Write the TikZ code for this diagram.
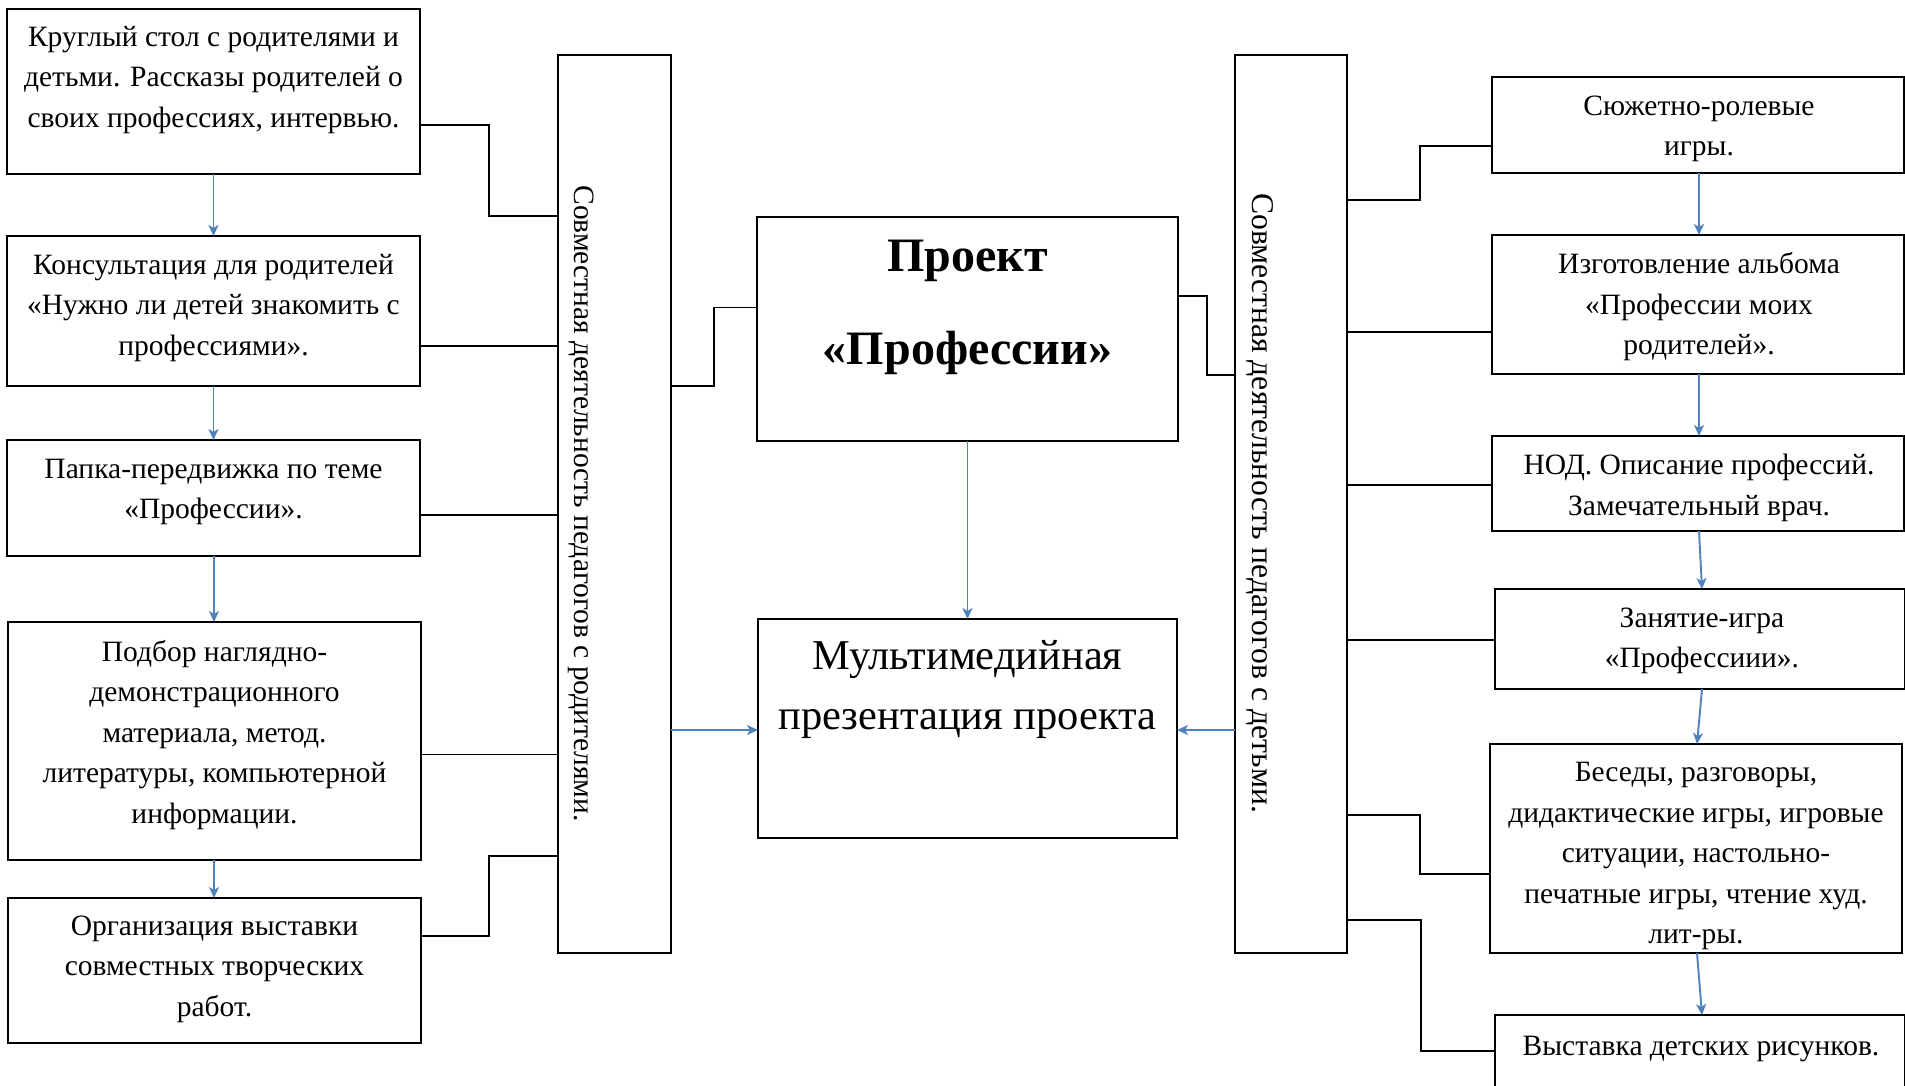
\documentclass[tikz,border=0pt]{standalone}
\usepackage{fontspec}
\setmainfont{Liberation Serif}
\usetikzlibrary{arrows.meta}
\definecolor{arrblue}{HTML}{4F81BD}
\tikzset{
  box/.style={draw=black, line width=1.9pt, inner sep=0pt, outer sep=0pt, anchor=north west},
  txt/.style={align=center, inner sep=0pt, yshift=-3pt, font=\fontsize{29.5}{40.5}\selectfont},
  vtxt/.style={rotate=-90, inner sep=0pt, font=\fontsize{29.5}{36}\selectfont},
  conn/.style={draw=black, line width=1.9pt},
  barrow/.style={draw=arrblue, line width=1.9pt, -{Stealth[length=11pt,width=10pt,inset=3pt]}},
}
\begin{document}
\begin{tikzpicture}[x=1pt,y=-1pt]
\useasboundingbox (0,0) rectangle (1905,1085);
% left boxes
\node[box, minimum width=413pt, minimum height=165pt] (b1) at (7,9) {};
\node[box, minimum width=413pt, minimum height=150pt] (b2) at (7,236) {};
\node[box, minimum width=413pt, minimum height=116pt] (b3) at (7,440) {};
\node[box, minimum width=413pt, minimum height=238pt] (b4) at (8,622) {};
\node[box, minimum width=413pt, minimum height=145pt] (b5) at (8,898) {};
\node[txt] (t1) at (213.5,77) {Круглый стол с родителями и\\детьми. Рассказы родителей о\\своих профессиях, интервью.};
\node[txt] (t2) at (213.5,305) {Консультация для родителей\\«Нужно ли детей знакомить с\\профессиями».};
\node[txt] (t3) at (213.5,489) {Папка-передвижка по теме\\«Профессии».};
\node[txt] (t4) at (214.5,732) {Подбор наглядно-\\демонстрационного\\материала, метод.\\литературы, компьютерной\\информации.};
\node[txt] (t5) at (214.5,966) {Организация выставки\\совместных творческих\\работ.};
% left vertical box
\node[box, minimum width=113pt, minimum height=898pt] (vl) at (558,55) {};
\node[vtxt] (tvl) at (581,503.5) {Совместная деятельность педагогов с родителями.};
% center
\node[box, minimum width=421pt, minimum height=224pt] (p) at (757,217) {};
\node[align=center, inner sep=0pt, font=\fontsize{48}{93}\selectfont\bfseries] (tp) at (967.5,307.5) {Проект\\«Профессии»};
\node[box, minimum width=419pt, minimum height=219pt] (m) at (758,619) {};
\node[align=center, inner sep=0pt, font=\fontsize{42.5}{59.5}\selectfont] (tm) at (967.5,689.5) {Мультимедийная\\презентация проекта};
% right vertical box
\node[box, minimum width=112pt, minimum height=898pt] (vr) at (1235,55) {};
\node[vtxt, font=\fontsize{31.7}{36}\selectfont] (tvr) at (1260,503) {Совместная деятельность педагогов с детьми.};
% right boxes
\node[box, minimum width=412pt, minimum height=96pt] (r1) at (1492,77) {};
\node[box, minimum width=412pt, minimum height=139pt] (r2) at (1492,235) {};
\node[box, minimum width=412pt, minimum height=95pt] (r3) at (1492,436) {};
\node[box, minimum width=410pt, minimum height=100pt] (r4) at (1495,589) {};
\node[box, minimum width=412pt, minimum height=209pt] (r5) at (1490,744) {};
\node[box, minimum width=410pt, minimum height=100pt] (r6) at (1495,1015) {};
\node[txt] (tr1) at (1699,126) {Сюжетно-ролевые\\игры.};
\node[txt] (tr2) at (1699,304) {Изготовление альбома\\«Профессии моих\\родителей».};
\node[txt] (tr3) at (1699,485) {НОД. Описание профессий.\\Замечательный врач.};
\node[txt] (tr4) at (1702,638) {Занятие-игра\\«Профессиии».};
\node[txt] (tr5) at (1696,853) {Беседы, разговоры,\\дидактические игры, игровые\\ситуации, настольно-\\печатные игры, чтение худ.\\лит-ры.};
\node[txt] (tr6) at (1701,1046.5) {Выставка детских рисунков.};
% coordinates for connector bends
\coordinate (c1a) at (489,125); \coordinate (c1b) at (489,216);
\coordinate (c5a) at (489,936); \coordinate (c5b) at (489,856);
\coordinate (cpa) at (714,386); \coordinate (cpb) at (714,307.5);
\coordinate (cqa) at (1207,296); \coordinate (cqb) at (1207,375);
\coordinate (cr1a) at (1420,200); \coordinate (cr1b) at (1420,146);
\coordinate (cr5a) at (1420,815); \coordinate (cr5b) at (1420,874);
\coordinate (cr6a) at (1421,920); \coordinate (cr6b) at (1421,1051);
% left connectors
\draw[conn] (b1.east |- c1a) -- (c1a) -- (c1b) -- (vl.west |- c1b);
\draw[conn] (b2.east |- 0,346) -- (vl.west |- 0,346);
\draw[conn] (b3.east |- 0,515) -- (vl.west |- 0,515);
\draw[conn] (b4.east |- 0,754.5) -- (vl.west |- 0,754.5);
\draw[conn] (b5.east |- c5a) -- (c5a) -- (c5b) -- (vl.west |- c5b);
% center connectors
\draw[conn] (vl.east |- cpa) -- (cpa) -- (cpb) -- (p.west |- cpb);
\draw[conn] (p.east |- cqa) -- (cqa) -- (cqb) -- (vr.west |- cqb);
% right connectors
\draw[conn] (vr.east |- cr1a) -- (cr1a) -- (cr1b) -- (r1.west |- cr1b);
\draw[conn] (vr.east |- 0,332) -- (r2.west |- 0,332);
\draw[conn] (vr.east |- 0,485) -- (r3.west |- 0,485);
\draw[conn] (vr.east |- 0,640) -- (r4.west |- 0,640);
\draw[conn] (vr.east |- cr5a) -- (cr5a) -- (cr5b) -- (r5.west |- cr5b);
\draw[conn] (vr.east |- cr6a) -- (cr6a) -- (cr6b) -- (r6.west |- cr6b);
% blue arrows
\draw[barrow] (b1.south -| 213.5,0) -- (b2.north -| 213.5,0);
\draw[barrow] (b2.south -| 213.5,0) -- (b3.north -| 213.5,0);
\draw[barrow] (b3.south -| 214,0) -- (b4.north -| 214,0);
\draw[barrow] (b4.south -| 214,0) -- (b5.north -| 214,0);
\draw[barrow] (p.south -| 967.5,0) -- (m.north -| 967.5,0);
\draw[barrow] (vl.east |- 0,730) -- (m.west |- 0,730);
\draw[barrow] (vr.west |- 0,730) -- (m.east |- 0,730);
\draw[barrow] (r1.south -| 1699,0) -- (r2.north -| 1699,0);
\draw[barrow] (r2.south -| 1699,0) -- (r3.north -| 1699,0);
\draw[barrow] (r3.south -| 1699,0) -- (r4.north -| 1702,0);
\draw[barrow] (r4.south -| 1702,0) -- (r5.north -| 1697,0);
\draw[barrow] (r5.south -| 1697,0) -- (r6.north -| 1702,0);
\end{tikzpicture}
\end{document}
